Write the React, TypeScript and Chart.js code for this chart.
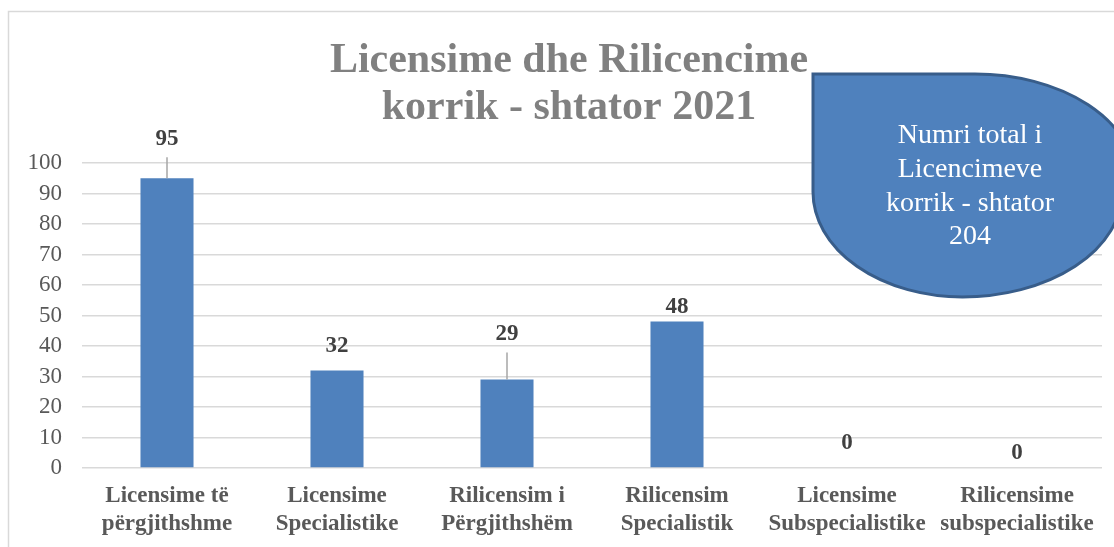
import React, { useEffect, useRef } from "react";
import { Chart, registerables } from "chart.js";
Chart.register(...registerables);

const categories: string[][] = [
  ["Licensime të", "përgjithshme"],
  ["Licensime", "Specialistike"],
  ["Rilicensim i", "Përgjithshëm"],
  ["Rilicensim", "Specialistik"],
  ["Licensime", "Subspecialistike"],
  ["Rilicensime", "subspecialistike"],
];
const values = [95, 32, 29, 48, 0, 0];
const labelOffsets = [39, 24, 45, 15, 25, 15];
const titleLines = ["Licensime dhe Rilicencime", "korrik - shtator 2021"];
const calloutLines = ["Numri total i", "Licencimeve", "korrik - shtator", "204"];
const yMin = 0;
const yMax = 100;
const yStep = 10;

const SERIF = '"Liberation Serif", "Times New Roman", serif';

const decor = {
  id: "decor",
  beforeDraw(chart: any) {
    const ctx = chart.ctx;
    ctx.save();
    ctx.fillStyle = "#ffffff";
    ctx.fillRect(0, 0, chart.width, chart.height);
    ctx.strokeStyle = "#d9d9d9";
    ctx.lineWidth = 1.5;
    ctx.strokeRect(8.5, 11.5, 1130, 600);
    ctx.fillStyle = "#808080";
    ctx.font = `bold 42px ${SERIF}`;
    ctx.textAlign = "center";
    ctx.textBaseline = "alphabetic";
    titleLines.forEach((t, i) => ctx.fillText(t, 569, 72 + i * 47));
    ctx.restore();
  },
  afterDatasetsDraw(chart: any) {
    const ctx = chart.ctx;
    const meta = chart.getDatasetMeta(0);
    ctx.save();
    ctx.font = `bold 23px ${SERIF}`;
    ctx.fillStyle = "#404040";
    ctx.textAlign = "center";
    ctx.textBaseline = "middle";
    meta.data.forEach((bar: any, i: number) => {
      const x = bar.x;
      const top = bar.y;
      const ly = top - labelOffsets[i];
      if (labelOffsets[i] > 30) {
        ctx.strokeStyle = "#a6a6a6";
        ctx.lineWidth = 1.5;
        ctx.beginPath();
        ctx.moveTo(x, ly + 18);
        ctx.lineTo(x, top);
        ctx.stroke();
      }
      ctx.fillText(String(values[i]), x, ly);
    });
    ctx.restore();
  },
  afterDraw(chart: any) {
    const ctx = chart.ctx;
    ctx.save();
    ctx.beginPath();
    ctx.moveTo(813, 74);
    ctx.lineTo(975, 74);
    ctx.ellipse(975, 179, 160, 105, 0, -Math.PI / 2, 0, false);
    ctx.ellipse(962, 192, 160, 105, 0, 0, Math.PI / 2, false);
    ctx.ellipse(963, 192, 150, 105, 0, Math.PI / 2, Math.PI, false);
    ctx.closePath();
    ctx.fillStyle = "#4f81bd";
    ctx.fill();
    ctx.strokeStyle = "#385d8a";
    ctx.lineWidth = 3;
    ctx.stroke();
    ctx.fillStyle = "#ffffff";
    ctx.font = `28px ${SERIF}`;
    ctx.textAlign = "center";
    ctx.textBaseline = "middle";
    calloutLines.forEach((t, i) => ctx.fillText(t, 970, 136 + i * 33.7));
    ctx.restore();
  },
};

export default function App() {
  const ref = useRef<HTMLCanvasElement>(null);
  useEffect(() => {
    if (!ref.current) return;
    const chart = new Chart(ref.current, {
      type: "bar",
      data: {
        labels: categories,
        datasets: [
          {
            data: values,
            backgroundColor: "#4f81bd",
            barPercentage: 0.312,
            categoryPercentage: 1,
          },
        ],
      },
      options: {
        animation: false,
        responsive: false,
        layout: { padding: { top: 163, right: 12, left: 0, bottom: 0 } },
        plugins: {
          legend: { display: false },
          title: { display: false },
          tooltip: { enabled: false },
        },
        scales: {
          x: {
            grid: { display: false, drawTicks: false },
            border: { display: false },
            ticks: {
              font: { family: SERIF, size: 23, weight: "bold", lineHeight: 1.22 },
              color: "#595959",
              padding: 14,
              maxRotation: 0,
              autoSkip: false,
            },
            afterFit(s: any) {
              s.height = 79;
            },
          },
          y: {
            min: yMin,
            max: yMax,
            ticks: {
              stepSize: yStep,
              autoSkip: false,
              font: { family: SERIF, size: 23 },
              color: "#595959",
              padding: 20,
            },
            grid: { color: "#d9d9d9", lineWidth: 1.5, drawTicks: false },
            border: { display: false },
            afterFit(s: any) {
              s.width = 82;
            },
          },
        },
      },
      plugins: [decor],
    } as any);
    return () => chart.destroy();
  }, []);
  return (
    <div style={{ position: "fixed", left: 0, top: 0, width: 1114, height: 547, overflow: "hidden", background: "#fff" }}>
      <canvas ref={ref} width={1114} height={547} style={{ display: "block" }} />
    </div>
  );
}
